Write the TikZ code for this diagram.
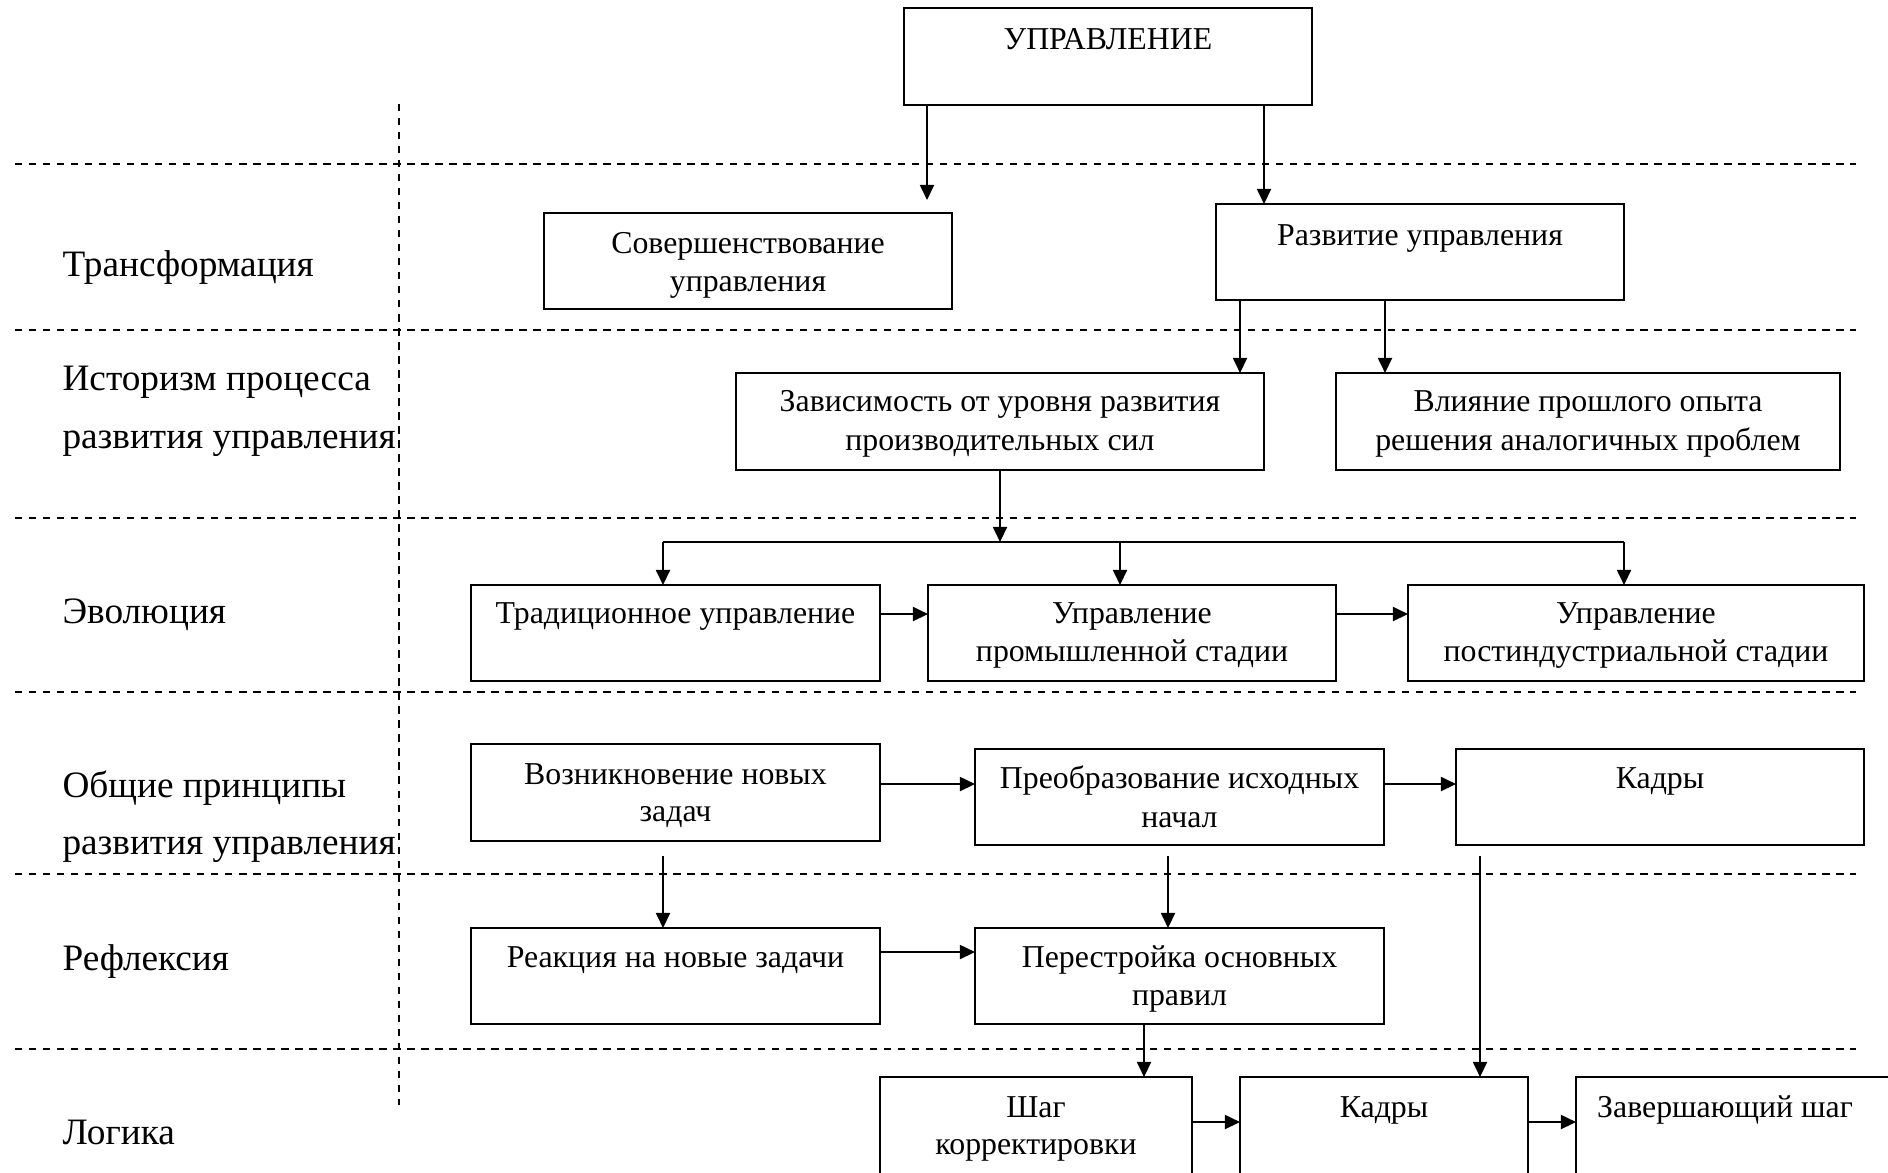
\documentclass[tikz,border=0pt]{standalone}
\usepackage{fontspec}
\setmainfont{Liberation Serif}
\usetikzlibrary{arrows.meta}
\tikzset{
  box/.style={draw, line width=0.95pt, inner sep=0pt, outer sep=0pt},
  btxt/.style={anchor=base, inner sep=0pt, font=\fontsize{11.7pt}{14pt}\selectfont},
  lbl/.style={anchor=base west, inner sep=0pt, font=\fontsize{13.7pt}{17pt}\selectfont},
  arr/.style={line width=0.75pt, -{Triangle[length=5.6pt,width=5.2pt]}},
  ln/.style={line width=0.75pt},
  sep/.style={line width=0.8pt, dash pattern=on 2.7pt off 2.45pt},
}
\newcommand\mybox[5]{%
  \node[box, minimum width={(#4-#2)*0.3676pt}, minimum height={(#5-#3)*0.3676pt}] (#1) at ({(#2+#4)/2},{(#3+#5)/2}) {};}
\begin{document}
\begin{tikzpicture}[x=0.3676pt, y=-0.3676pt]
\useasboundingbox (0,0) rectangle (1888,1172);
\clip (0,0) rectangle (1888,1172);
\fill[white] (0,0) rectangle (1888,1172);

% separators
\foreach \yy in {164,330,518,692,874,1049} {\draw[sep] (15,\yy) -- (1856,\yy);}
\draw[sep] (399,104) -- (399,1105);

% row labels
\node[lbl] (l1) at (62,276) {Трансформация};
\node[lbl] (l2a) at (62,390) {Историзм процесса};
\node[lbl] (l2b) at (62,448) {развития управления};
\node[lbl] (l3) at (62,623) {Эволюция};
\node[lbl] (l4a) at (62,797) {Общие принципы};
\node[lbl] (l4b) at (62,854) {развития управления};
\node[lbl] (l5) at (62,970) {Рефлексия};
\node[lbl] (l6) at (62,1144) {Логика};

% boxes
\mybox{upr}{904}{8}{1312}{105}
\node[btxt] at (1108,49) {УПРАВЛЕНИЕ};

\mybox{sov}{544}{213}{952}{309}
\node[btxt] at (748,253) {Совершенствование};
\node[btxt] at (748,291) {управления};

\mybox{razv}{1216}{204}{1624}{300}
\node[btxt] at (1420,245) {Развитие управления};

\mybox{zav}{736}{373}{1264}{470}
\node[btxt] at (1000,411) {Зависимость от уровня развития};
\node[btxt] at (1000,450) {производительных сил};

\mybox{vli}{1336}{373}{1840}{470}
\node[btxt] at (1588,411) {Влияние прошлого опыта};
\node[btxt] at (1588,450) {решения аналогичных проблем};

\mybox{trad}{471}{585}{880}{681}
\node[btxt] at (675.5,623) {Традиционное управление};

\mybox{prom}{928}{585}{1336}{681}
\node[btxt] at (1132,623) {Управление};
\node[btxt] at (1132,661) {промышленной стадии};

\mybox{post}{1408}{585}{1864}{681}
\node[btxt] at (1636,623) {Управление};
\node[btxt] at (1636,661) {постиндустриальной стадии};

\mybox{voz}{471}{744}{880}{841}
\node[btxt] at (675.5,784) {Возникновение новых};
\node[btxt] at (675.5,821) {задач};

\mybox{preo}{975}{749}{1384}{845}
\node[btxt] at (1179.5,788) {Преобразование исходных};
\node[btxt] at (1179.5,827) {начал};

\mybox{kad1}{1456}{749}{1864}{845}
\node[btxt] at (1660,788) {Кадры};

\mybox{reak}{471}{928}{880}{1024}
\node[btxt] at (675.5,967) {Реакция на новые задачи};

\mybox{pere}{975}{928}{1384}{1024}
\node[btxt] at (1179.5,967) {Перестройка основных};
\node[btxt] at (1179.5,1005) {правил};

\mybox{shag}{880}{1077}{1192}{1185}
\node[btxt] at (1036,1117) {Шаг};
\node[btxt] at (1036,1154) {корректировки};

\mybox{kad2}{1240}{1077}{1528}{1185}
\node[btxt] at (1384,1117) {Кадры};

\mybox{zaver}{1576}{1077}{1900}{1185}
\node[btxt] at (1725,1117) {Завершающий шаг};

% free-end coordinates
\coordinate (a1) at (927,200);
\coordinate (bus) at (1000,542);
\coordinate (busL) at (663,542);
\coordinate (busM) at (1120,542);
\coordinate (busR) at (1624,542);
\coordinate (s1) at (663,856);
\coordinate (s2) at (1168,856);
\coordinate (s3) at (1480,856);

% connectors
\draw[arr] (upr.south -| a1) -- (a1);
\draw[arr] (upr.south -| 1264,0) -- (razv.north -| 1264,0);
\draw[arr] (razv.south -| 1240,0) -- (zav.north -| 1240,0);
\draw[arr] (razv.south -| 1385,0) -- (vli.north -| 1385,0);
\draw[arr] (zav.south -| bus) -- (bus);
\draw[ln] (busL) -- (busR);
\draw[arr] (busL) -- (trad.north -| busL);
\draw[arr] (busM) -- (prom.north -| busM);
\draw[arr] (busR) -- (post.north -| busR);
\draw[arr] (trad.east |- 0,614) -- (prom.west |- 0,614);
\draw[arr] (prom.east |- 0,614) -- (post.west |- 0,614);
\draw[arr] (voz.east |- 0,784) -- (preo.west |- 0,784);
\draw[arr] (preo.east |- 0,784) -- (kad1.west |- 0,784);
\draw[arr] (reak.east |- 0,952) -- (pere.west |- 0,952);
\draw[arr] (s1) -- (reak.north -| s1);
\draw[arr] (s2) -- (pere.north -| s2);
\draw[arr] (s3) -- (kad2.north -| s3);
\draw[arr] (pere.south -| 1144,0) -- (shag.north -| 1144,0);
\draw[arr] (shag.east |- 0,1122) -- (kad2.west |- 0,1122);
\draw[arr] (kad2.east |- 0,1122) -- (zaver.west |- 0,1122);
\end{tikzpicture}
\end{document}
